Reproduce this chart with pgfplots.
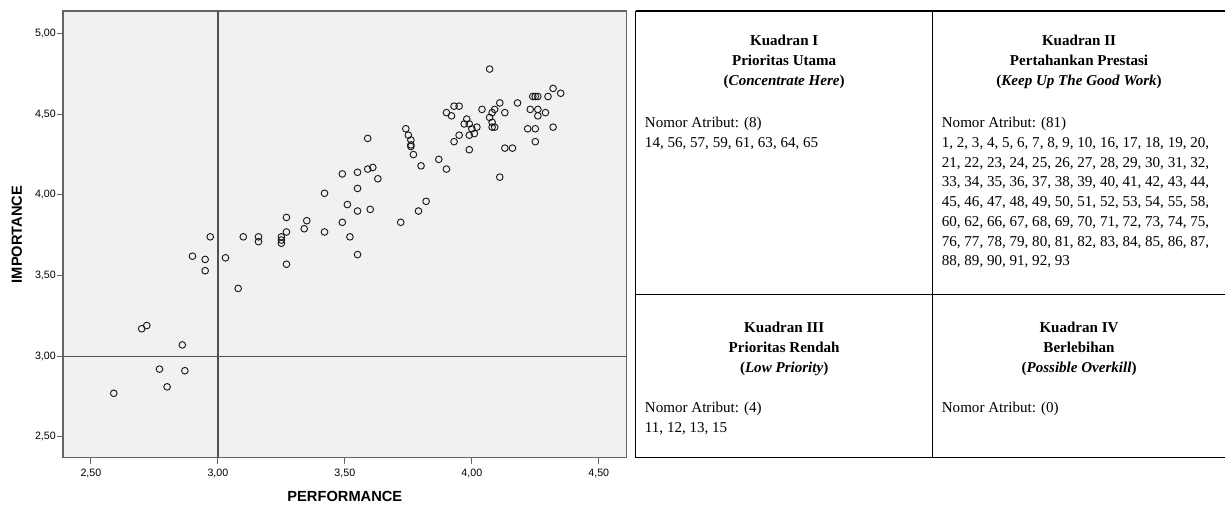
\documentclass[border=0pt]{standalone}
\usepackage{fontspec}
\setmainfont{Liberation Serif}
\newfontfamily\arialfont{Liberation Sans}
\usepackage{pgfplots}
\pgfplotsset{compat=1.18}

\definecolor{plotbg}{RGB}{240,241,240}
\definecolor{framegray}{RGB}{100,100,100}
\definecolor{refgray}{RGB}{80,80,80}

% importance-performance scores per attribute
\pgfplotstableread{
x y
2.59 2.77
2.77 2.92
2.80 2.81
2.87 2.91
2.70 3.17
2.72 3.19
2.86 3.07
2.90 3.62
2.95 3.60
2.95 3.53
2.97 3.74
3.03 3.61
3.27 3.57
3.08 3.42
3.10 3.74
3.16 3.74
3.16 3.71
3.25 3.74
3.25 3.72
3.25 3.70
3.27 3.77
3.27 3.86
3.35 3.84
3.34 3.79
3.42 3.77
3.42 4.01
3.49 4.13
3.49 3.83
3.51 3.94
3.52 3.74
3.55 4.14
3.59 4.16
3.61 4.17
3.59 4.35
3.63 4.10
3.55 4.04
3.55 3.90
3.60 3.91
3.72 3.83
3.79 3.90
3.82 3.96
3.55 3.63
3.74 4.41
3.75 4.37
3.76 4.34
3.76 4.31
3.76 4.30
3.77 4.25
3.80 4.18
3.87 4.22
3.90 4.16
3.90 4.51
3.92 4.49
3.93 4.55
3.95 4.55
3.93 4.33
3.95 4.37
3.98 4.47
3.97 4.44
3.99 4.44
4.00 4.41
3.99 4.37
4.01 4.38
4.02 4.42
3.99 4.28
4.04 4.53
4.07 4.78
4.07 4.48
4.08 4.51
4.09 4.53
4.08 4.45
4.08 4.42
4.09 4.42
4.11 4.57
4.13 4.51
4.13 4.29
4.16 4.29
4.11 4.11
4.18 4.57
4.23 4.53
4.22 4.41
4.25 4.41
4.25 4.33
4.24 4.61
4.25 4.61
4.26 4.61
4.26 4.53
4.26 4.49
4.29 4.51
4.30 4.61
4.32 4.66
4.35 4.63
4.32 4.42
}\ipadata

\newcommand{\cellfont}{\fontsize{11.3}{13}\selectfont}

\begin{document}
\begin{tikzpicture}
\begin{scope}[x=0.75pt,y=-0.75pt]
  \useasboundingbox (0,0) rectangle (1226,504);
\end{scope}

\begin{axis}[
  at={(47.25pt,-343.5pt)}, anchor=south west,
  scale only axis, width=423pt, height=335.25pt,
  xmin=2.39, xmax=4.61, ymin=2.37, ymax=5.14,
  xtick={2.5,3,3.5,4,4.5}, ytick={2.5,3,3.5,4,4.5,5},
  tick align=outside, major tick length=4.6pt,
  xtick pos=bottom, ytick pos=left,
  tick style={framegray, line width=0.8pt},
  axis line style={framegray, line width=0.9pt},
  axis background/.style={fill=plotbg},
  ticklabel style={font=\arialfont\fontsize{8}{9}\selectfont},
  yticklabel style={inner xsep=0.6pt},
  /pgf/number format/.cd, fixed, fixed zerofill, precision=2, use comma, assume math mode=true,
]
  % quadrant dividers at the overall means
  \draw[refgray, line width=0.95pt] (axis cs:3,2.37) -- (axis cs:3,5.14);
  \draw[refgray, line width=0.95pt] (axis cs:2.39,3) -- (axis cs:4.61,3);
  \addplot[only marks, mark=o, mark size=2.5pt, mark options={black!90, line width=0.7pt}]
    table[x=x, y=y] {\ipadata};
\end{axis}

\begin{scope}[x=0.75pt,y=-0.75pt]
  % axis titles
  \node[font=\arialfont\bfseries\fontsize{11}{13}\selectfont, anchor=base] at (345,501.5) {PERFORMANCE};
  \node[font=\arialfont\bfseries\fontsize{11}{13}\selectfont, anchor=base, rotate=90] at (22,234.5) {IMPORTANCE};

  % quadrant table
  \draw[black, line width=0.8pt] (636,11) -- (1226,11);
  \draw[black, line width=0.8pt] (636,295) -- (1226,295);
  \draw[black, line width=0.8pt] (636,458) -- (1226,458);
  \draw[black, line width=0.8pt] (636,11) -- (636,458);
  \draw[black, line width=0.8pt] (933,11) -- (933,458);

  \begin{scope}[every node/.style={font=\cellfont, inner sep=0pt}]
  % Kuadran I
  \node[anchor=base] at (784.5,46) {\bfseries Kuadran I};
  \node[anchor=base] at (784.5,65.8) {\bfseries Prioritas Utama};
  \node[anchor=base] at (784.5,85.6) {\bfseries (\textit{Concentrate Here})};
  \node[anchor=base west] at (645,127.5) {Nomor Atribut: (8)};
  \node[anchor=base west] at (645,147.3) {14, 56, 57, 59, 61, 63, 64, 65};
  % Kuadran II
  \node[anchor=base] at (1079.5,46) {\bfseries Kuadran II};
  \node[anchor=base] at (1079.5,65.8) {\bfseries Pertahankan Prestasi};
  \node[anchor=base] at (1079.5,85.6) {\bfseries (\textit{Keep Up The Good Work})};
  \node[anchor=base west] at (942,127.5) {Nomor Atribut: (81)};
  \node[anchor=base west] at (942,147.3) {1, 2, 3, 4, 5, 6, 7, 8, 9, 10, 16, 17, 18, 19, 20,};
  \node[anchor=base west] at (942,167.1) {21, 22, 23, 24, 25, 26, 27, 28, 29, 30, 31, 32,};
  \node[anchor=base west] at (942,186.9) {33, 34, 35, 36, 37, 38, 39, 40, 41, 42, 43, 44,};
  \node[anchor=base west] at (942,206.7) {45, 46, 47, 48, 49, 50, 51, 52, 53, 54, 55, 58,};
  \node[anchor=base west] at (942,226.5) {60, 62, 66, 67, 68, 69, 70, 71, 72, 73, 74, 75,};
  \node[anchor=base west] at (942,246.3) {76, 77, 78, 79, 80, 81, 82, 83, 84, 85, 86, 87,};
  \node[anchor=base west] at (942,266.1) {88, 89, 90, 91, 92, 93};
  % Kuadran III
  \node[anchor=base] at (784.5,333) {\bfseries Kuadran III};
  \node[anchor=base] at (784.5,352.8) {\bfseries Prioritas Rendah};
  \node[anchor=base] at (784.5,372.6) {\bfseries (\textit{Low Priority})};
  \node[anchor=base west] at (645,413) {Nomor Atribut: (4)};
  \node[anchor=base west] at (645,432.8) {11, 12, 13, 15};
  % Kuadran IV
  \node[anchor=base] at (1079.5,333) {\bfseries Kuadran IV};
  \node[anchor=base] at (1079.5,352.8) {\bfseries Berlebihan};
  \node[anchor=base] at (1079.5,372.6) {\bfseries (\textit{Possible Overkill})};
  \node[anchor=base west] at (942,413) {Nomor Atribut: (0)};
  \end{scope}
\end{scope}
\end{tikzpicture}
\end{document}
